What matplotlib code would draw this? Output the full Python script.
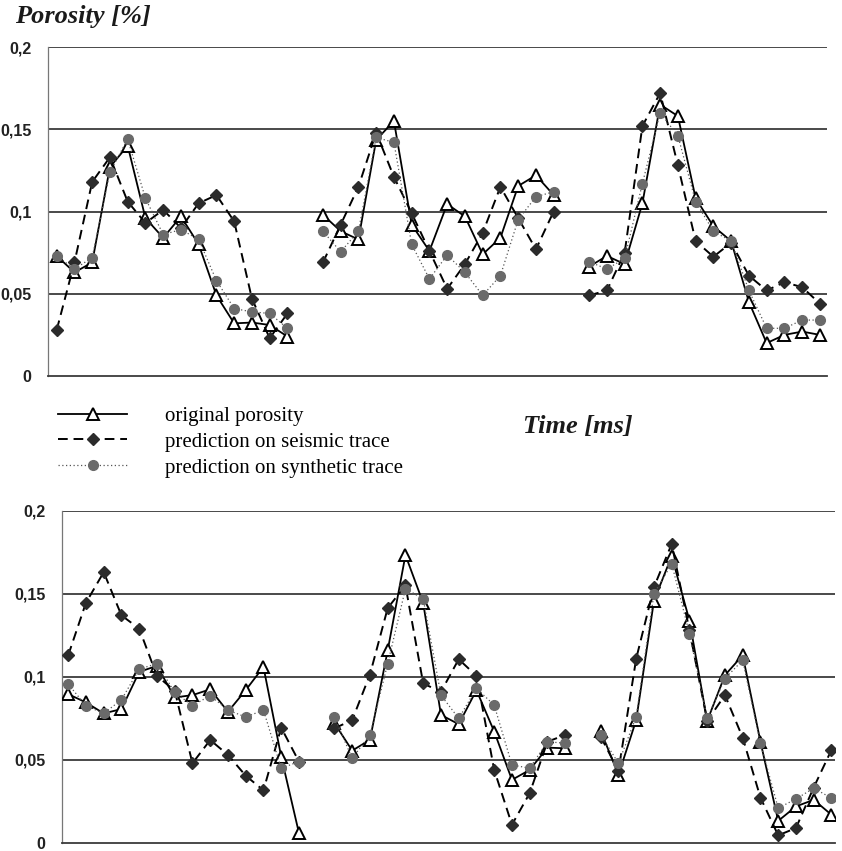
import numpy as np
import matplotlib.pyplot as plt

nan = np.nan

# 44 sample positions per panel, wells separated by an empty slot
top_original = [0.073, 0.063, 0.069, 0.127, 0.140, 0.096, 0.084, 0.097, 0.080, 0.049, 0.032, 0.0325, 0.031, 0.024,
                nan,
                0.098, 0.088, 0.083, 0.1435, 0.155, 0.092, 0.076, 0.1045, 0.097, 0.074, 0.084, 0.1155, 0.122, 0.110,
                nan,
                0.0665, 0.073, 0.068, 0.105, 0.165, 0.158, 0.108, 0.091, 0.082, 0.045, 0.020, 0.025, 0.027, 0.025]
top_seismic = [0.028, 0.069, 0.118, 0.133, 0.106, 0.093, 0.101, 0.090, 0.105, 0.110, 0.094, 0.047, 0.023, 0.038,
               nan,
               0.069, 0.092, 0.115, 0.148, 0.121, 0.099, 0.076, 0.053, 0.068, 0.087, 0.115, 0.096, 0.077, 0.100,
               nan,
               0.049, 0.052, 0.075, 0.152, 0.172, 0.128, 0.082, 0.0725, 0.081, 0.061, 0.052, 0.057, 0.054, 0.044]
top_synthetic = [0.073, 0.065, 0.072, 0.124, 0.144, 0.108, 0.086, 0.089, 0.083, 0.058, 0.041, 0.039, 0.038, 0.029,
                 nan,
                 0.088, 0.0755, 0.088, 0.145, 0.142, 0.080, 0.059, 0.0735, 0.063, 0.049, 0.061, 0.095, 0.109, 0.112,
                 nan,
                 0.0695, 0.065, 0.0715, 0.117, 0.160, 0.146, 0.106, 0.088, 0.082, 0.052, 0.029, 0.029, 0.034, 0.034]

bot_original = [0.0896, 0.0846, 0.078, 0.0806, 0.103, 0.1066, 0.0876, 0.089, 0.0925, 0.079, 0.092, 0.106, 0.052, 0.006,
                nan,
                0.0721, 0.0556, 0.0621, 0.1159, 0.1733, 0.1444, 0.0771, 0.0715, 0.092, 0.0671, 0.038, 0.044, 0.0574, 0.057,
                nan,
                0.0675, 0.041, 0.074, 0.1458, 0.1727, 0.1339, 0.0735, 0.101, 0.113, 0.061, 0.0133, 0.022, 0.026, 0.017]
bot_seismic = [0.113, 0.1446, 0.163, 0.137, 0.129, 0.1006, 0.0916, 0.048, 0.062, 0.053, 0.0405, 0.0317, 0.0694, 0.049,
               nan,
               0.069, 0.074, 0.1014, 0.1414, 0.155, 0.096, 0.091, 0.1106, 0.1006, 0.044, 0.011, 0.030, 0.061, 0.065,
               nan,
               0.064, 0.0434, 0.111, 0.154, 0.180, 0.128, 0.0735, 0.089, 0.0634, 0.0273, 0.0046, 0.009, 0.0334, 0.056]
bot_synthetic = [0.0956, 0.0826, 0.078, 0.0862, 0.1046, 0.108, 0.0906, 0.0827, 0.0887, 0.080, 0.0758, 0.080, 0.045, 0.049,
                 nan,
                 0.0756, 0.051, 0.065, 0.108, 0.153, 0.147, 0.089, 0.075, 0.093, 0.083, 0.047, 0.045, 0.061, 0.060,
                 nan,
                 0.065, 0.048, 0.076, 0.150, 0.168, 0.126, 0.075, 0.099, 0.110, 0.060, 0.021, 0.0265, 0.033, 0.027]

y_ticks = [0, 0.05, 0.1, 0.15, 0.2]
y_labels = ['0', '0,05', '0,1', '0,15', '0,2']
series_labels = ['original porosity', 'prediction on seismic trace', 'prediction on synthetic trace']

W, H = 842, 851
fig = plt.figure(figsize=(W / 100, H / 100), dpi=100)


def draw_panel(ax, original, seismic, synthetic, xlim):
    x = np.arange(len(original))
    for y in y_ticks[1:]:
        ax.axhline(y, color='#3a3a3a', lw=1.3, zorder=1)
    h1, = ax.plot(x, original, color='black', lw=1.3, marker='^', ms=9,
                  mfc='white', mec='black', mew=1.4, zorder=3)
    h2, = ax.plot(x, seismic, color='black', lw=1.4, ls=(0, (5, 3)), marker='D', ms=6.5,
                  mfc='#2b2b2b', mec='#2b2b2b', zorder=4)
    h3, = ax.plot(x, synthetic, color='#555555', lw=0.9, ls=(0, (1, 2)), marker='o', ms=7,
                  mfc='#6a6a6a', mec='#6a6a6a', zorder=5)
    ax.set_xlim(*xlim)
    ax.set_ylim(0, 0.2)
    ax.set_yticks(y_ticks)
    ax.set_yticklabels(y_labels, fontsize=11.5, family='Liberation Sans', weight='bold', color='#222222')
    ax.tick_params(axis='y', length=0, pad=12)
    ax.set_xticks([])
    for s in ['top', 'right']:
        ax.spines[s].set_visible(False)
    ax.spines['left'].set_color('#777777')
    ax.spines['left'].set_linewidth(0.9)
    ax.spines['bottom'].set_color('#3a3a3a')
    ax.spines['bottom'].set_linewidth(1.3)
    ax.patch.set_alpha(0)
    return [h1, h2, h3]


ax_top = fig.add_axes([48 / W, 1 - 376 / H, (827 - 48) / W, (376 - 47) / H])
handles = draw_panel(ax_top, top_original, top_seismic, top_synthetic, (-0.49, 43.4))

ax_bot = fig.add_axes([62 / W, 1 - 843 / H, (835 - 62) / W, (843 - 510.7) / H])
draw_panel(ax_bot, bot_original, bot_seismic, bot_synthetic, (-0.35, 43.2))

fig.text(15 / W, 1 - 5 / H, 'Porosity [%]', ha='left', va='top', fontsize=19,
         family='Liberation Serif', weight='bold', style='italic', color='#1a1a1a')
fig.text(523 / W, 1 - 426 / H, 'Time [ms]', ha='left', va='center', fontsize=19,
         family='Liberation Serif', weight='bold', style='italic', color='#1a1a1a')

fig.legend(handles, series_labels, loc='upper left', bbox_to_anchor=(50 / W, 1 - 398 / H),
           frameon=False, prop={'family': 'Liberation Serif', 'size': 15},
           handlelength=3.3, handletextpad=1.8, labelspacing=0.3, borderaxespad=0)

fig.savefig('out.png', dpi=100, facecolor='white')
